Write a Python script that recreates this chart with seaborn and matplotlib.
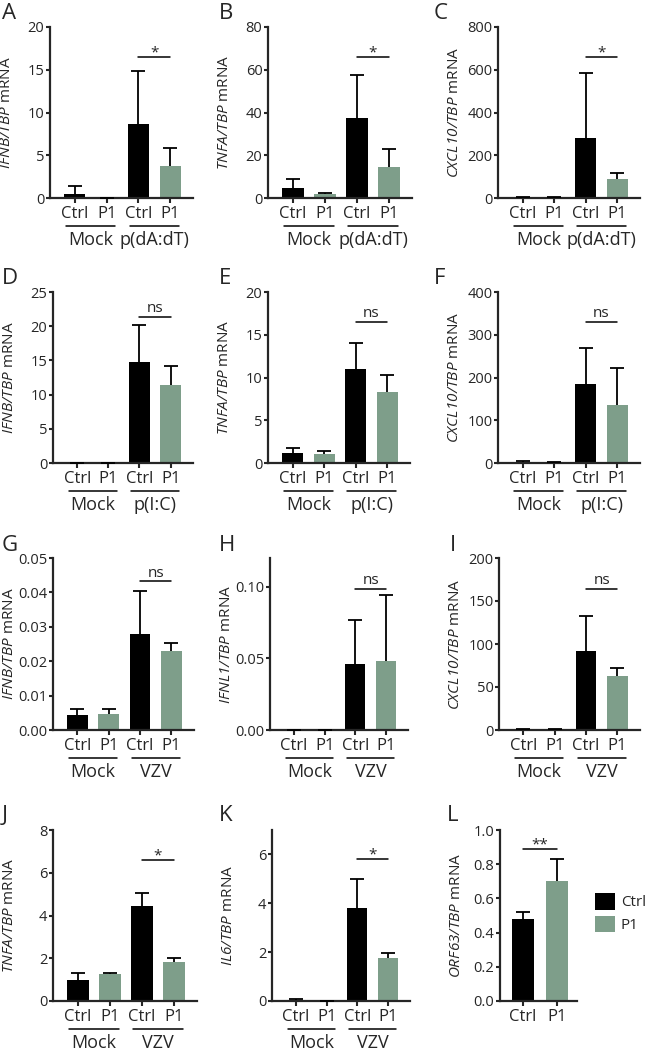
import numpy as np
import pandas as pd
import seaborn as sns
from matplotlib import pyplot as plt
from matplotlib.patches import Patch
from matplotlib.transforms import blended_transform_factory

sns.set_style("ticks")
plt.rcParams['font.family'] = ['Open Sans', 'DejaVu Sans']
plt.rcParams['mathtext.fontset'] = 'custom'
plt.rcParams['mathtext.rm'] = 'Open Sans:italic'
plt.rcParams['mathtext.it'] = 'Open Sans:italic'

# ---- data (means and SD) ----
genotypes = ["Ctrl", "P1"]
conds_dadt = ["Mock", "p(dA:dT)"]
conds_pic = ["Mock", "p(I:C)"]
conds_vzv = ["Mock", "VZV"]

# A-C: p(dA:dT)
ifnb_dadt = [0.5, 0.05, 8.7, 3.7]
ifnb_dadt_sd = [0.9, 0.0, 6.1, 2.2]
tnfa_dadt = [4.8, 2.0, 37.5, 14.5]
tnfa_dadt_sd = [4.2, 0.5, 20.0, 8.5]
cxcl10_dadt = [3, 2, 280, 90]
cxcl10_dadt_sd = [2, 1, 305, 25]
# D-F: p(I:C)
ifnb_pic = [0.05, 0.05, 14.7, 11.4]
ifnb_pic_sd = [0, 0, 5.5, 2.8]
tnfa_pic = [1.2, 1.1, 11.0, 8.3]
tnfa_pic_sd = [0.5, 0.35, 3.0, 2.0]
cxcl10_pic = [3, 2, 185, 135]
cxcl10_pic_sd = [2, 1, 85, 87]
# G-K: VZV
ifnb_vzv = [0.0043, 0.0047, 0.028, 0.023]
ifnb_vzv_sd = [0.0017, 0.0015, 0.0123, 0.0023]
ifnl1_vzv = [0, 0, 0.046, 0.048]
ifnl1_vzv_sd = [0, 0, 0.031, 0.046]
cxcl10_vzv = [1, 1, 92, 63]
cxcl10_vzv_sd = [0.5, 0.5, 40, 9]
tnfa_vzv = [0.97, 1.25, 4.45, 1.82]
tnfa_vzv_sd = [0.33, 0.05, 0.6, 0.2]
il6_vzv = [0.04, 0.02, 3.8, 1.75]
il6_vzv_sd = [0.03, 0, 1.2, 0.2]
# L: ORF63
orf63 = [0.48, 0.70]
orf63_sd = [0.04, 0.13]

letters = list("ABCDEFGHIJKL")
ylabels = ["IFNB/TBP", "TNFA/TBP", "CXCL10/TBP",
           "IFNB/TBP", "TNFA/TBP", "CXCL10/TBP",
           "IFNB/TBP", "IFNL1/TBP", "CXCL10/TBP",
           "TNFA/TBP", "IL6/TBP", "ORF63/TBP"]
means = [ifnb_dadt, tnfa_dadt, cxcl10_dadt, ifnb_pic, tnfa_pic, cxcl10_pic,
         ifnb_vzv, ifnl1_vzv, cxcl10_vzv, tnfa_vzv, il6_vzv, orf63]
sds = [ifnb_dadt_sd, tnfa_dadt_sd, cxcl10_dadt_sd, ifnb_pic_sd, tnfa_pic_sd, cxcl10_pic_sd,
       ifnb_vzv_sd, ifnl1_vzv_sd, cxcl10_vzv_sd, tnfa_vzv_sd, il6_vzv_sd, orf63_sd]
conditions = [conds_dadt] * 3 + [conds_pic] * 3 + [conds_vzv] * 5 + [None]
ymax = [20, 80, 800, 25, 20, 400, 0.05, 0.12, 200, 8, 7, 1.0]
yticks = [[0, 5, 10, 15, 20], [0, 20, 40, 60, 80], [0, 200, 400, 600, 800],
          [0, 5, 10, 15, 20, 25], [0, 5, 10, 15, 20], [0, 100, 200, 300, 400],
          [0, 0.01, 0.02, 0.03, 0.04, 0.05], [0, 0.05, 0.10], [0, 50, 100, 150, 200],
          [0, 2, 4, 6, 8], [0, 2, 4, 6], [0, 0.2, 0.4, 0.6, 0.8, 1.0]]
ytick_labels = [["0", "5", "10", "15", "20"], ["0", "20", "40", "60", "80"],
                ["0", "200", "400", "600", "800"], ["0", "5", "10", "15", "20", "25"],
                ["0", "5", "10", "15", "20"], ["0", "100", "200", "300", "400"],
                ["0.00", "0.01", "0.02", "0.03", "0.04", "0.05"], ["0.00", "0.05", "0.10"],
                ["0", "50", "100", "150", "200"], ["0", "2", "4", "6", "8"],
                ["0", "2", "4", "6"], ["0.0", "0.2", "0.4", "0.6", "0.8", "1.0"]]
sig_text = ["*", "*", "*", "ns", "ns", "ns", "ns", "ns", "ns", "*", "*", "**"]
sig_y = [16.5, 66, 660, 21.3, 16.5, 330, 0.0432, 0.0986, 164, 6.6, 5.8, 0.887]

palette = {"Ctrl": "black", "P1": "#7e9e8a"}

# ---- layout (pixel boxes: left, top, right, bottom) ----
W, H = 645, 1052
boxes = [(50, 27, 193, 198), (268, 27, 412, 198), (498, 27, 640, 198),
         (53, 292, 193, 463), (268, 292, 410, 463), (498, 292, 640, 463),
         (53, 558, 194, 730), (270, 558, 408, 730), (499, 558, 640, 730),
         (53, 830, 197, 1001), (272, 830, 410, 1001), (500, 830, 577, 1001)]
letter_pos = [(2, 3), (219, 3), (434, 3), (2, 268), (219, 268), (434, 268),
              (2, 535), (219, 535), (450, 535), (2, 805), (219, 805), (447, 805)]

fig = plt.figure(figsize=(W / 100, H / 100), dpi=100)

for i in range(12):
    l, t, r, b = boxes[i]
    ax = fig.add_axes([l / W, 1 - b / H, (r - l) / W, (b - t) / H])
    m = np.array(means[i], dtype=float)
    s = np.array(sds[i], dtype=float)
    n = len(m)
    conds = conditions[i]
    if conds is None:
        bars = genotypes
    else:
        bars = [c + " " + g for c in conds for g in genotypes]
    df = pd.DataFrame({"bar": bars, "genotype": genotypes * (n // 2), "value": m})
    sns.barplot(data=df, x="bar", y="value", hue="genotype", palette=palette,
                dodge=False, width=0.66, saturation=1, errorbar=None,
                linewidth=0, legend=False, ax=ax)
    x = np.arange(n)
    eb = ax.errorbar(x, m, yerr=[np.zeros(n), s], fmt='none', ecolor='black',
                     elinewidth=1.3, capsize=5, capthick=1.3, zorder=3)
    eb[1][0].set_visible(False)

    if n == 4:
        ax.set_xlim(-0.78, 3.72)
    else:
        ax.set_xlim(-0.68, 1.59)
    ax.set_ylim(0, ymax[i])
    ax.set_yticks(yticks[i])
    ax.set_yticklabels(ytick_labels[i])
    ax.set_xticks(x)
    ax.set_xticklabels(genotypes * (n // 2))
    ax.set_xlabel("")
    ax.set_ylabel("$" + ylabels[i] + "$ mRNA", fontsize=11)
    ax.yaxis.set_label_coords(-36 / (r - l), 0.5)
    sns.despine(ax=ax)
    for sp in ["left", "bottom"]:
        ax.spines[sp].set_linewidth(1.6)
    ax.tick_params(axis="y", direction="out", length=3, width=1.5, labelsize=10.5, pad=1)
    ax.tick_params(axis="x", direction="out", length=3.5, width=1.5, labelsize=12, pad=2)

    # significance bar
    sx = [n - 2, n - 1]
    ax.plot(sx, [sig_y[i], sig_y[i]], color="black", lw=1.1, clip_on=False)
    off = 0.5 if "*" in sig_text[i] else 3.5
    ax.annotate(sig_text[i], xy=(np.mean(sx), sig_y[i]), xytext=(0, off),
                textcoords="offset points", ha="center", va="baseline", fontsize=11)

    # group underlines
    if conds is not None:
        tr = blended_transform_factory(ax.transData, ax.transAxes)
        hpx = b - t
        for k, c in enumerate(conds):
            ax.plot([2 * k - 0.27, 2 * k + 1 + 0.27], [-28 / hpx, -28 / hpx],
                    color="black", lw=1.1, transform=tr, clip_on=False)
            ax.text(2 * k + 0.5, -42 / hpx, c, transform=tr, ha="center",
                    va="center", fontsize=13)

    fig.text(letter_pos[i][0] / W, 1 - letter_pos[i][1] / H, letters[i],
             fontsize=16, ha="left", va="top")

    if i == 11:
        handles = [Patch(facecolor=palette[g], edgecolor="none") for g in genotypes]
        ax.legend(handles, genotypes, loc="upper left",
                  bbox_to_anchor=(595 / W, 1 - 893 / H), bbox_transform=fig.transFigure,
                  frameon=False, fontsize=11, handlelength=1.3, handleheight=1.3,
                  handletextpad=0.4, labelspacing=0.35, borderpad=0, borderaxespad=0)

plt.savefig("out.png", dpi=100)
